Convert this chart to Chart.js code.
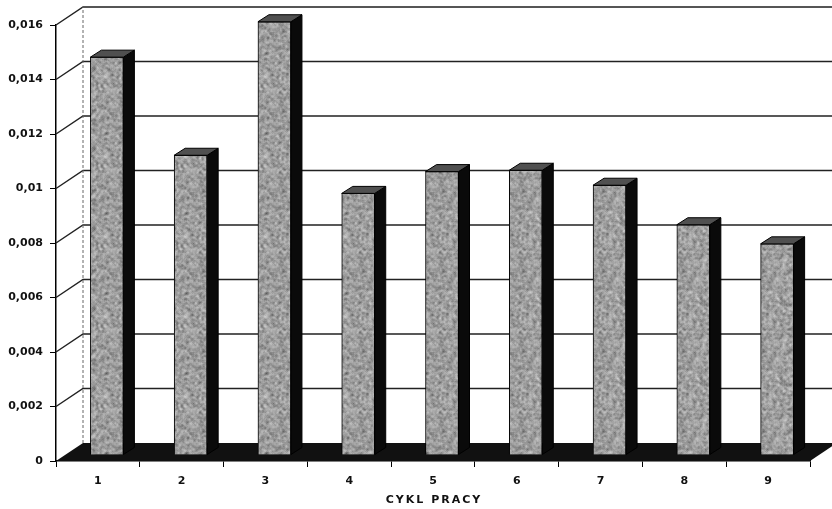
<!DOCTYPE html>
<html>
<head>
<meta charset="utf-8">
<script src="https://cdn.jsdelivr.net/npm/chart.js@4.4.1/dist/chart.umd.min.js"></script>
<style>
  html, body { margin: 0; padding: 0; background: #fff; }
  #wrap { width: 832px; height: 509px; }
  #my_chart { filter: blur(0.35px); }
</style>
</head>
<body>
<div id="wrap"><canvas id="my_chart" width="832" height="509"></canvas></div>
<script>
var cycles = ["1", "2", "3", "4", "5", "6", "7", "8", "9"];
var values = [0.0146, 0.0110, 0.0159, 0.0096, 0.0104, 0.01045, 0.0099, 0.00845, 0.00775];
var yMax = 0.016;
var yStep = 0.002;
var xTitle = "CYKL PRACY";

// depth offsets for the fake 3D look
var WALL = { dx: 27, dy: -18 };
var SHIFT = { dx: 9, dy: -6 };
var DEPTH = { dx: 11, dy: -7 };
var FONT = "'DejaVu Sans', Verdana, sans-serif";

// mottled grey fill: deterministic noise, smoothed with wrap-around so the tile has no seams
function speckle() {
    var n = 80;
    var s = 987654;
    function rnd() { s = (s * 1103515245 + 12345) & 0x7fffffff; return s / 0x7fffffff; }
    var raw = [];
    for (var i = 0; i < n * n; i++) {
        var v = 175 + (rnd() - 0.5) * 110;
        if (rnd() < 0.2) v -= 80;
        raw.push(v);
    }
    var c = document.createElement("canvas");
    c.width = n; c.height = n;
    var g = c.getContext("2d");
    var img = g.createImageData(n, n);
    for (var y = 0; y < n; y++) {
        for (var x = 0; x < n; x++) {
            var sum = 0, w = 0;
            for (var dy = -1; dy <= 1; dy++) {
                for (var dx = -1; dx <= 1; dx++) {
                    var k = (dx === 0 && dy === 0) ? 2 : 1;
                    sum += raw[((y + dy + n) % n) * n + (x + dx + n) % n] * k;
                    w += k;
                }
            }
            var v2 = Math.max(80, Math.min(225, sum / w));
            var j = (y * n + x) * 4;
            img.data[j] = v2; img.data[j + 1] = v2; img.data[j + 2] = v2; img.data[j + 3] = 255;
        }
    }
    g.putImageData(img, 0, 0);
    return g.createPattern(c, "repeat");
}

var ctx = document.getElementById("my_chart").getContext("2d");
var fill = speckle();

var box3d = {
    id: "box3d",
    beforeDatasetsDraw: function (chart) {
        var c = chart.ctx, a = chart.chartArea, y = chart.scales.y;
        var L = a.left, R = a.right, B = a.bottom, T = a.top;
        c.save();
        // back wall grid + left wall diagonals
        c.strokeStyle = "#222";
        c.lineWidth = 1.5;
        for (var v = yStep; v <= yMax + 1e-9; v += yStep) {
            var py = y.getPixelForValue(v);
            c.beginPath();
            c.moveTo(L, py);
            c.lineTo(L + WALL.dx, py + WALL.dy);
            c.lineTo(chart.width, py + WALL.dy);
            c.stroke();
        }
        c.strokeStyle = "#666";
        c.lineWidth = 1;
        c.setLineDash([3, 2]);
        c.beginPath();
        c.moveTo(L + WALL.dx, B + WALL.dy);
        c.lineTo(L + WALL.dx, T + WALL.dy);
        c.stroke();
        c.setLineDash([]);
        c.strokeStyle = "#555";
        c.beginPath();
        c.moveTo(L + WALL.dx, T + WALL.dy);
        c.lineTo(chart.width, T + WALL.dy);
        c.stroke();
        // floor
        c.fillStyle = "#111";
        c.beginPath();
        c.moveTo(L, B);
        c.lineTo(R, B);
        c.lineTo(R + WALL.dx, B + WALL.dy);
        c.lineTo(L + WALL.dx, B + WALL.dy);
        c.closePath();
        c.fill();
        c.restore();
    },
    beforeDatasetDraw: function (chart) {
        chart.ctx.save();
        chart.ctx.translate(SHIFT.dx, SHIFT.dy);
    },
    afterDatasetDraw: function (chart, args) {
        var c = chart.ctx;
        args.meta.data.forEach(function (el) {
            var p = el.getProps(["x", "y", "base", "width"], true);
            var l = p.x - p.width / 2, r = p.x + p.width / 2;
            c.lineWidth = 1;
            c.strokeStyle = "#000";
            c.fillStyle = "#0a0a0a";
            c.beginPath();
            c.moveTo(r, p.y);
            c.lineTo(r + DEPTH.dx, p.y + DEPTH.dy);
            c.lineTo(r + DEPTH.dx, p.base + DEPTH.dy);
            c.lineTo(r, p.base);
            c.closePath();
            c.fill();
            c.stroke();
            c.fillStyle = "#505050";
            c.beginPath();
            c.moveTo(l, p.y);
            c.lineTo(r, p.y);
            c.lineTo(r + DEPTH.dx, p.y + DEPTH.dy);
            c.lineTo(l + DEPTH.dx, p.y + DEPTH.dy);
            c.closePath();
            c.fill();
            c.stroke();
        });
        c.restore();
    },
    afterDraw: function (chart) {
        var c = chart.ctx, a = chart.chartArea;
        c.save();
        c.font = "bold 11px " + FONT;
        c.fillStyle = "#111";
        c.textAlign = "center";
        c.textBaseline = "middle";
        c.letterSpacing = "2px";
        c.fillText(xTitle, (a.left + a.right) / 2 + 1, 500);
        c.restore();
    }
};

new Chart(ctx, {
    type: "bar",
    data: {
        labels: cycles,
        datasets: [{
            data: values,
            backgroundColor: fill,
            borderColor: "#000",
            borderWidth: 1,
            barThickness: 33,
            clip: false
        }]
    },
    options: {
        responsive: false,
        animation: false,
        layout: { padding: { top: 25, right: 22, left: 0, bottom: 0 } },
        plugins: {
            legend: { display: false },
            tooltip: { enabled: false }
        },
        scales: {
            x: {
                grid: {
                    display: true,
                    drawOnChartArea: false,
                    drawTicks: true,
                    tickLength: 6,
                    color: "#000",
                    offset: true
                },
                border: { display: true, color: "#000", width: 1.5 },
                ticks: {
                    color: "#111",
                    font: { family: FONT, size: 11, weight: "bold" },
                    padding: 8,
                    maxRotation: 0
                },
                afterFit: function (s) { s.height = 48; }
            },
            y: {
                min: 0,
                max: yMax,
                grid: {
                    display: true,
                    drawOnChartArea: false,
                    drawTicks: true,
                    tickLength: 6,
                    color: "#000"
                },
                border: { display: true, color: "#000", width: 1.5 },
                ticks: {
                    stepSize: yStep,
                    color: "#111",
                    padding: 7,
                    font: { family: FONT, size: 11, weight: "bold" },
                    callback: function (v) { return String(+v.toFixed(3)).replace(".", ","); }
                },
                afterFit: function (s) { s.width = 56; }
            }
        }
    },
    plugins: [box3d]
});
</script>
</body>
</html>
